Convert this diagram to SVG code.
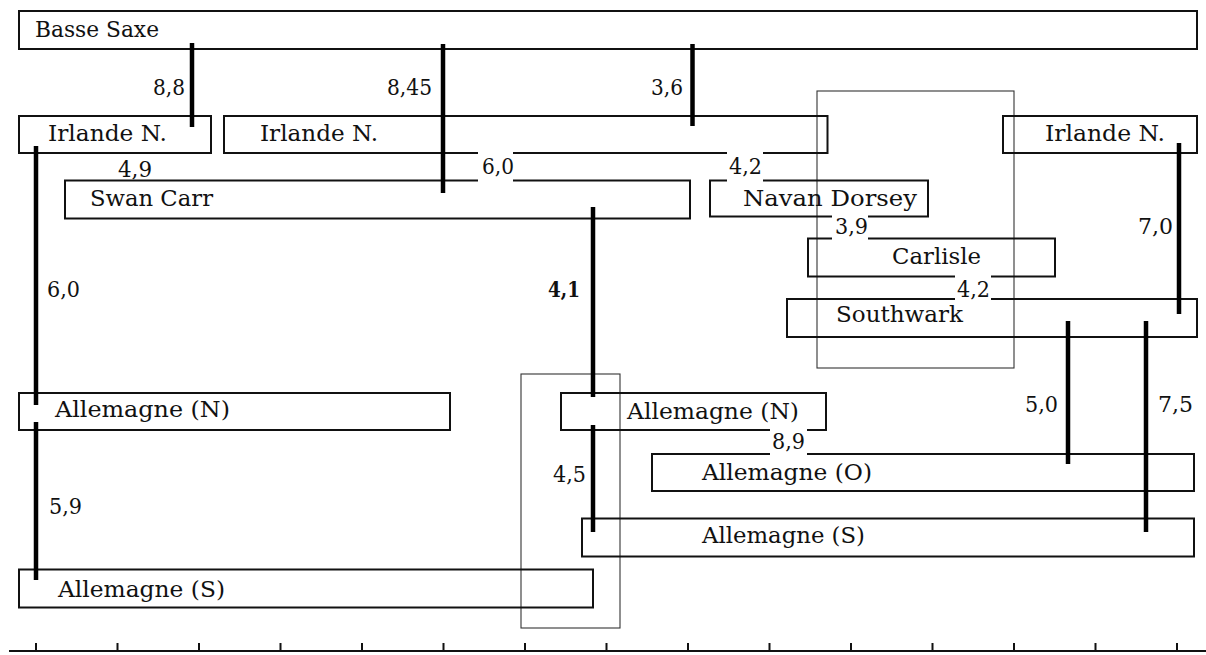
<svg xmlns="http://www.w3.org/2000/svg" width="1206" height="655" viewBox="0 0 1206 655">
<style>
  .box { fill: none; stroke: #111; stroke-width: 2; }
  .grp { fill: none; stroke: #333; stroke-width: 1.1; }
  .lbl { font-family: "DejaVu Serif", "Liberation Serif", serif; font-size: 22px; fill: #111; }
  .num { font-family: "DejaVu Serif", "Liberation Serif", serif; font-size: 22px; fill: #111; }
  .bold { font-weight: bold; }
  .con { stroke: #000; stroke-width: 4.5; }
  .mask { fill: #fff; stroke: none; }
  .axis { stroke: #111; stroke-width: 2; }
</style>
<rect x="0" y="0" width="1206" height="655" fill="#fff"/>

<g id="group-outlines">
  <rect class="grp" x="817" y="91" width="197" height="277"/>
  <rect class="grp" x="521" y="374" width="99" height="254"/>
</g>

<g id="basse-saxe"><rect class="box" x="19" y="11" width="1178" height="38"/><text class="lbl" x="35" y="37" textLength="124" lengthAdjust="spacingAndGlyphs">Basse Saxe</text></g>
<g id="irlande-n-1"><rect class="box" x="19" y="116" width="192" height="37"/><text class="lbl" x="48" y="141" textLength="119" lengthAdjust="spacingAndGlyphs">Irlande N.</text></g>
<g id="irlande-n-2"><rect class="box" x="224" y="116" width="603.5" height="37"/><text class="lbl" x="260" y="141" textLength="118" lengthAdjust="spacingAndGlyphs">Irlande N.</text></g>
<g id="irlande-n-3"><rect class="box" x="1003" y="116" width="194" height="37"/><text class="lbl" x="1045" y="141" textLength="120" lengthAdjust="spacingAndGlyphs">Irlande N.</text></g>
<g id="swan-carr"><rect class="box" x="65" y="180.5" width="625" height="38"/><text class="lbl" x="90" y="205.5" textLength="123" lengthAdjust="spacingAndGlyphs">Swan Carr</text></g>
<g id="navan-dorsey"><rect class="box" x="710" y="180.5" width="218" height="36"/><text class="lbl" x="743" y="205.5" textLength="174" lengthAdjust="spacingAndGlyphs">Navan  Dorsey</text></g>
<g id="carlisle"><rect class="box" x="808" y="238.5" width="247" height="38"/><text class="lbl" x="892" y="263.5" textLength="89" lengthAdjust="spacingAndGlyphs">Carlisle</text></g>
<g id="southwark"><rect class="box" x="787" y="299" width="410" height="38"/><text class="lbl" x="836" y="322" textLength="127" lengthAdjust="spacingAndGlyphs">Southwark</text></g>
<g id="allemagne-n-1"><rect class="box" x="19" y="393" width="431" height="37"/><text class="lbl" x="55" y="417" textLength="175" lengthAdjust="spacingAndGlyphs">Allemagne (N)</text></g>
<g id="allemagne-n-2"><rect class="box" x="561" y="393" width="265" height="37"/><text class="lbl" x="627" y="419" textLength="172" lengthAdjust="spacingAndGlyphs">Allemagne (N)</text></g>
<g id="allemagne-o"><rect class="box" x="652" y="454" width="542" height="37"/><text class="lbl" x="702" y="480" textLength="170" lengthAdjust="spacingAndGlyphs">Allemagne (O)</text></g>
<g id="allemagne-s-2"><rect class="box" x="582" y="518.5" width="612" height="38"/><text class="lbl" x="702" y="543" textLength="163" lengthAdjust="spacingAndGlyphs">Allemagne (S)</text></g>
<g id="allemagne-s-1"><rect class="box" x="19" y="569.5" width="574" height="38"/><text class="lbl" x="58" y="596.5" textLength="167" lengthAdjust="spacingAndGlyphs">Allemagne (S)</text></g>

<g id="connectors">
  <line class="con" x1="192" y1="43" x2="192" y2="127"/>
  <line class="con" x1="443" y1="44" x2="443" y2="193"/>
  <line class="con" x1="692.5" y1="44" x2="692.5" y2="126"/>
  <line class="con" x1="36" y1="146" x2="36" y2="405"/>
  <line class="con" x1="36" y1="422" x2="36" y2="580"/>
  <line class="con" x1="593" y1="207" x2="593" y2="397"/>
  <line class="con" x1="593" y1="425" x2="593" y2="532"/>
  <line class="con" x1="1179" y1="143" x2="1179" y2="314"/>
  <line class="con" x1="1068" y1="321" x2="1068" y2="464"/>
  <line class="con" x1="1146" y1="321" x2="1146" y2="532"/>

  <rect class="mask" x="478" y="150" width="35" height="33"/>
  <rect class="mask" x="727" y="150" width="36" height="33"/>
  <rect class="mask" x="832" y="214" width="36" height="27"/>
  <rect class="mask" x="955" y="274" width="36" height="28"/>
  <rect class="mask" x="770" y="427" width="37" height="29"/>

  <text class="num" x="153" y="94.5" textLength="32" lengthAdjust="spacingAndGlyphs">8,8</text>
  <text class="num" x="387" y="94.5" textLength="45" lengthAdjust="spacingAndGlyphs">8,45</text>
  <text class="num" x="651" y="94.5" textLength="32" lengthAdjust="spacingAndGlyphs">3,6</text>
  <text class="num" x="118" y="177" textLength="34" lengthAdjust="spacingAndGlyphs">4,9</text>
  <text class="num" x="482" y="173.5" textLength="32" lengthAdjust="spacingAndGlyphs">6,0</text>
  <text class="num" x="729" y="173.5" textLength="33" lengthAdjust="spacingAndGlyphs">4,2</text>
  <text class="num" x="835" y="233.5" textLength="33" lengthAdjust="spacingAndGlyphs">3,9</text>
  <text class="num" x="957" y="297" textLength="33" lengthAdjust="spacingAndGlyphs">4,2</text>
  <text class="num" x="1138" y="233.5" textLength="35" lengthAdjust="spacingAndGlyphs">7,0</text>
  <text class="num" x="47" y="297" textLength="33" lengthAdjust="spacingAndGlyphs">6,0</text>
  <text class="num bold" x="548" y="297" textLength="32" lengthAdjust="spacingAndGlyphs">4,1</text>
  <text class="num" x="1025" y="412" textLength="33" lengthAdjust="spacingAndGlyphs">5,0</text>
  <text class="num" x="1158" y="412" textLength="35" lengthAdjust="spacingAndGlyphs">7,5</text>
  <text class="num" x="772" y="448.5" textLength="33" lengthAdjust="spacingAndGlyphs">8,9</text>
  <text class="num" x="553" y="481.5" textLength="33" lengthAdjust="spacingAndGlyphs">4,5</text>
  <text class="num" x="49" y="513.5" textLength="33" lengthAdjust="spacingAndGlyphs">5,9</text>
</g>

<g id="axis">
  <line class="axis" x1="9" y1="651" x2="1206" y2="651"/>
  <path class="axis" d="M36 643V651M117.5 643V651M199 643V651M280.5 643V651M362 643V651M443.5 643V651M525 643V651M606.5 643V651M688 643V651M769.5 643V651M851 643V651M932.5 643V651M1014 643V651M1095.5 643V651M1177 643V651"/>
</g>
</svg>
